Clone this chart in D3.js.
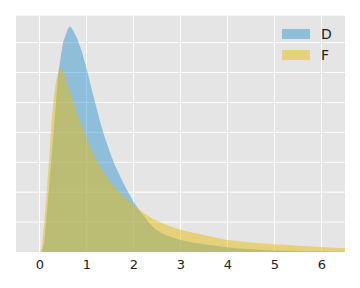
<!DOCTYPE html>
<html>
<head>
<meta charset="utf-8">
<script src="https://cdn.jsdelivr.net/npm/d3@7"></script>
<style>
html,body{margin:0;padding:0;background:#fff;}
svg{display:block;}
text{font-family:"DejaVu Sans",sans-serif;}
</style>
</head>
<body>
<svg id="chart" width="360" height="288"></svg>
<script>
// Series names
const seriesNames = ["D", "F"];
// Bin positions (x) and density values
const xD = [0, 0.05, 0.1, 0.2, 0.3, 0.4, 0.5, 0.6, 0.65, 0.7, 0.8, 0.9, 1.0, 1.1, 1.2, 1.3, 1.4, 1.5, 1.6, 1.7, 1.8, 1.9, 2.0, 2.1, 2.2, 2.3, 2.4, 2.5, 2.6, 2.7, 2.8, 2.9, 3.0, 3.25, 3.5, 3.75, 4.0, 4.25, 4.5, 4.75, 5.0, 5.5, 6.0, 6.6];
const yD = [0, 0, 0.03, 0.21, 0.40, 0.60, 0.70, 0.745, 0.755, 0.745, 0.715, 0.67, 0.615, 0.55, 0.49, 0.43, 0.378, 0.333, 0.292, 0.258, 0.226, 0.196, 0.168, 0.145, 0.124, 0.104, 0.086, 0.073, 0.063, 0.056, 0.050, 0.045, 0.040, 0.032, 0.026, 0.021, 0.016, 0.012, 0.009, 0.007, 0.005, 0.003, 0.002, 0.001];
const xF = [0, 0.02, 0.05, 0.1, 0.15, 0.2, 0.25, 0.3, 0.35, 0.4, 0.45, 0.5, 0.6, 0.7, 0.8, 0.9, 1.0, 1.1, 1.2, 1.3, 1.4, 1.5, 1.6, 1.7, 1.8, 1.9, 2.0, 2.2, 2.4, 2.6, 2.8, 3.0, 3.25, 3.5, 3.75, 4.0, 4.5, 5.0, 5.5, 6.0, 6.6];
const yF = [0, 0, 0.02, 0.097, 0.197, 0.30, 0.42, 0.51, 0.57, 0.60, 0.616, 0.605, 0.555, 0.508, 0.462, 0.418, 0.378, 0.342, 0.31, 0.282, 0.257, 0.236, 0.216, 0.199, 0.184, 0.17, 0.157, 0.132, 0.112, 0.097, 0.085, 0.074, 0.065, 0.057, 0.048, 0.040, 0.032, 0.026, 0.021, 0.017, 0.012];
const xTicks = [0, 1, 2, 3, 4, 5, 6];
const yGrid = [0.1, 0.2, 0.3, 0.4, 0.5, 0.6, 0.7];

const colors = {D: "#3797CF", F: "#E7BB0F"};
const svg = d3.select("#chart");
const L = 16, R = 345, T = 15.7, B = 252;
const x = d3.scaleLinear().domain([-0.5, 6.5]).range([L, R]);
const y = d3.scaleLinear().domain([0, 0.79]).range([B, T]);

svg.append("defs").append("clipPath").attr("id", "clip")
  .append("rect").attr("x", L).attr("y", T).attr("width", R - L).attr("height", B - T);

svg.append("rect").attr("x", L).attr("y", T).attr("width", R - L).attr("height", B - T).attr("fill", "#E5E5E5");

// grid
const g = svg.append("g");
g.selectAll(".gx").data(xTicks).join("line")
  .attr("x1", d => x(d)).attr("x2", d => x(d)).attr("y1", T).attr("y2", B)
  .attr("stroke", "#fff").attr("stroke-width", 1);
g.selectAll(".gy").data(yGrid).join("line")
  .attr("x1", L).attr("x2", R).attr("y1", d => y(d)).attr("y2", d => y(d))
  .attr("stroke", "#fff").attr("stroke-width", 1);

const area = d3.area().x(d => x(d[0])).y0(y(0)).y1(d => y(d[1]));
const series = [
  {name: "D", pts: xD.map((v, i) => [v, yD[i]])},
  {name: "F", pts: xF.map((v, i) => [v, yF[i]])}
];
svg.append("g").attr("clip-path", "url(#clip)")
  .selectAll("path").data(series).join("path")
  .attr("d", d => area(d.pts))
  .attr("fill", d => colors[d.name]).attr("fill-opacity", 0.5);

// x axis labels
const xAxis = d3.axisBottom(x).tickValues(xTicks).tickSize(0).tickPadding(8).tickFormat(d3.format("d"));
const ax = svg.append("g").attr("transform", `translate(0,${B})`).call(xAxis);
ax.select(".domain").remove();
ax.selectAll("text").attr("font-size", 13).attr("fill", "#222").attr("font-family", "DejaVu Sans, sans-serif");

// legend
const leg = svg.append("g");
seriesNames.forEach((n, i) => {
  const yy = 29 + i * 21;
  leg.append("rect").attr("x", 282).attr("y", yy).attr("width", 28).attr("height", 10)
    .attr("fill", colors[n]).attr("fill-opacity", 0.5);
  leg.append("text").attr("x", 321).attr("y", yy + 5).attr("dy", "0.36em")
    .attr("font-size", 14).attr("fill", "#222").text(n);
});
</script>
</body>
</html>
